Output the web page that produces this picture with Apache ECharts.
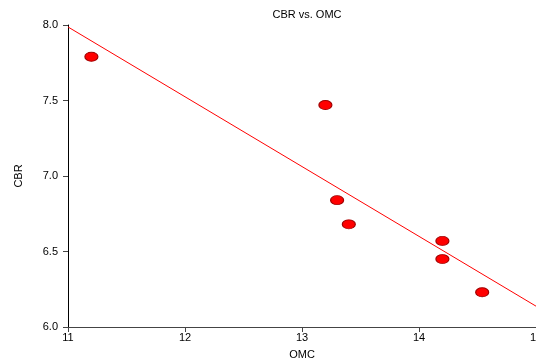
<!DOCTYPE html>
<html><head><meta charset="utf-8">
<script src="https://cdn.jsdelivr.net/npm/echarts@6/dist/echarts.min.js"></script>
<style>html,body{margin:0;padding:0;background:#fff}#c{width:536px;height:358px}</style>
</head><body><div id="c"></div>
<script>
const omc = [11.2, 13.2, 13.3, 13.4, 14.2, 14.2, 14.54];
const cbr = [7.79, 7.47, 6.84, 6.68, 6.57, 6.45, 6.23];
const fitX = [11, 15];
const fitY = [7.987, 6.138];
const xTicks = [11, 12, 13, 14, 15];
const yTicks = [6.0, 6.5, 7.0, 7.5, 8.0];

const chart = echarts.init(document.getElementById('c'), null, {renderer: 'canvas'});
const font = 'Liberation Sans, Arial, sans-serif';
chart.setOption({
  animation: false,
  title: {
    text: 'CBR vs. OMC', left: 302, top: 4, textAlign: 'center',
    textStyle: {fontFamily: font, fontSize: 11, fontWeight: 'normal', color: '#000'}
  },
  grid: {left: 68, right: 0, top: 25, bottom: 31, containLabel: false, outerBoundsMode: 'none'},
  xAxis: {
    type: 'value', min: xTicks[0], max: xTicks[xTicks.length - 1], interval: 1,
    name: 'OMC', nameLocation: 'middle', nameGap: 22,
    nameTextStyle: {fontFamily: font, fontSize: 11, color: '#000'},
    axisLine: {lineStyle: {color: '#444', width: 1}},
    axisTick: {length: 5, lineStyle: {color: '#444'}},
    axisLabel: {fontFamily: font, fontSize: 11, color: '#000', margin: 5},
    splitLine: {show: false}
  },
  yAxis: {
    type: 'value', min: yTicks[0], max: yTicks[yTicks.length - 1], interval: 0.5,
    name: 'CBR', nameLocation: 'middle', nameGap: 44, nameRotate: 90,
    nameTextStyle: {fontFamily: font, fontSize: 11, color: '#000'},
    axisLine: {show: true, lineStyle: {color: '#000', width: 1}},
    axisTick: {show: true, length: 5, lineStyle: {color: '#444'}},
    axisLabel: {fontFamily: font, fontSize: 11, color: '#000', margin: 10,
      formatter: v => v.toFixed(1)},
    splitLine: {show: false}
  },
  series: [
    {
      type: 'line', data: fitX.map((x, i) => [x, fitY[i]]), showSymbol: false,
      lineStyle: {color: '#ff0000', width: 1}, z: 2
    },
    {
      type: 'scatter', data: omc.map((x, i) => [x, cbr[i]]),
      symbol: 'circle', symbolSize: [13, 9],
      itemStyle: {color: '#ff0000', borderColor: '#a00000', borderWidth: 1, opacity: 1}, z: 3
    }
  ]
});
</script></body></html>
